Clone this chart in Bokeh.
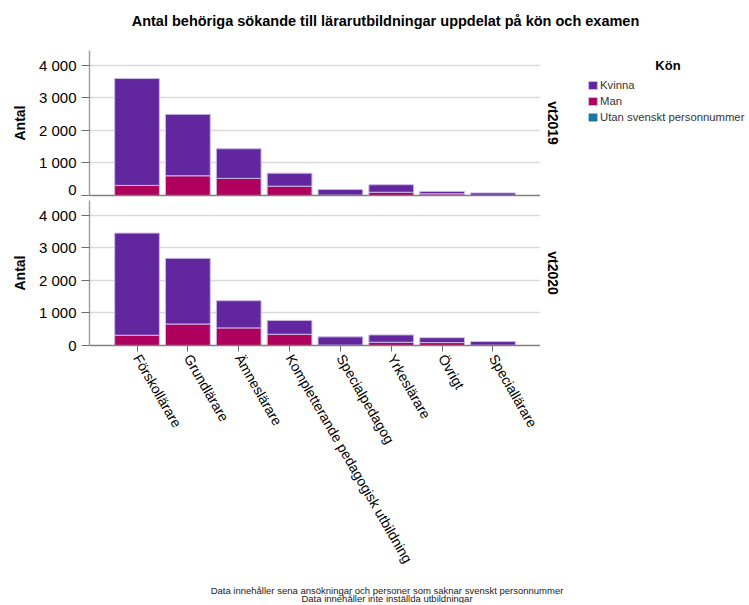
import math
from bokeh.plotting import figure
from bokeh.models import (FactorRange, Range1d, FixedTicker, Legend, LegendItem,
                          Label, ColumnDataSource, LinearAxis)
from bokeh.layouts import column, row
from bokeh.embed import file_html
from bokeh.resources import INLINE

# ---------------- data ----------------
categories = ["Förskollärare", "Grundlärare", "Ämneslärare",
              "Kompletterande pedagogisk utbildning", "Specialpedagog",
              "Yrkeslärare", "Övrigt", "Speciallärare"]

kvinna_2019 = [3280, 1885, 910, 400, 175, 230, 75, 75]
man_2019 = [310, 605, 525, 285, 10, 100, 50, 5]
utan_2019 = [0, 0, 0, 0, 0, 0, 0, 0]

kvinna_2020 = [3135, 2015, 835, 425, 255, 225, 150, 115]
man_2020 = [315, 660, 540, 345, 10, 100, 90, 8]
utan_2020 = [0, 0, 0, 0, 0, 0, 0, 0]

series_names = ["Kvinna", "Man", "Utan svenskt personnummer"]
panel_names = ["vt2019", "vt2020"]
y_ticks = [0, 1000, 2000, 3000, 4000]
y_tick_labels = ["0", "1 000", "2 000", "3 000", "4 000"]

title_text = "Antal behöriga sökande till lärarutbildningar uppdelat på kön och examen"
y_label = "Antal"
legend_title = "Kön"
footnotes = ["Data innehåller sena ansökningar och personer som saknar svenskt personnummer",
             "Data innehåller inte inställda utbildningar"]

# ---------------- style ----------------
FONT = "Liberation Sans"
C_KVINNA = "#62279f"
C_MAN = "#ae005c"
C_UTAN = "#1b78a0"
OUTLINE = "#cdb9e4"
GRID = "#d9d9d9"
FILLS = [C_MAN, C_KVINNA, C_UTAN]
LINES = [OUTLINE, OUTLINE, None]

TITLE_H = 50
P1_H = 147          # top panel figure height (frame 145 + 2)
P2_H = 3 + 145 + 234
FOOT_H = 24
RIGHT_H = P1_H + P2_H


def blank_fig(w, h):
    f = figure(width=w, height=h, x_range=Range1d(0, 1), y_range=Range1d(0, 1),
               min_border=0, x_axis_location=None, y_axis_location=None,
               output_backend="svg", toolbar_location=None)
    f.grid.visible = False
    f.outline_line_color = None
    return f


def make_panel(kvinna, man, utan, bottom):
    src = ColumnDataSource(dict(cat=categories, kvinna=kvinna, man=man, utan=utan))
    p = figure(x_range=FactorRange(factors=categories, range_padding=0.435,
                                   range_padding_units="absolute"),
               y_range=Range1d(0, 4450),
               frame_width=451, frame_height=145,
               min_border_left=89, min_border_right=0,
               min_border_top=3 if bottom else 0,
               min_border_bottom=234 if bottom else 2,
               x_axis_location="below" if bottom else None,
               output_backend="svg", toolbar_location=None)
    rs = p.vbar_stack(["man", "kvinna", "utan"], x="cat", width=0.88, source=src,
                      fill_color=FILLS, line_color=LINES, line_width=1)
    p.outline_line_color = None
    p.xgrid.visible = False
    p.ygrid.grid_line_color = GRID
    p.ygrid.grid_line_width = 1.5

    yax = p.yaxis[0]
    yax.ticker = FixedTicker(ticks=y_ticks)
    yax.major_label_overrides = {v: s for v, s in zip(y_ticks, y_tick_labels)}
    yax.axis_label = y_label
    yax.axis_label_text_font = FONT
    yax.axis_label_text_font_size = "14px"
    yax.axis_label_text_font_style = "bold"
    yax.axis_label_text_color = "black"
    yax.axis_label_standoff = 8
    yax.major_label_text_font = FONT
    yax.major_label_text_font_size = "15px"
    yax.major_label_text_color = "black"
    yax.major_label_standoff = 5
    yax.major_tick_in = 0
    yax.major_tick_out = 8
    yax.minor_tick_line_color = None
    yax.major_tick_line_color = "#6e6e6e"
    yax.axis_line_color = "#a0a0a0"
    yax.axis_line_width = 1.5

    if bottom:
        xax = p.xaxis[0]
        xax.axis_line_color = "#7f7f7f"
        xax.axis_line_width = 1.5
        xax.major_tick_in = 0
        xax.major_tick_out = 6
        xax.major_tick_line_color = "#6e6e6e"
        xax.major_label_orientation = -math.pi / 3
        xax.major_label_text_font = FONT
        xax.major_label_text_font_size = "14px"
        xax.major_label_text_color = "black"
        xax.major_label_standoff = 4
    else:
        base = LinearAxis(ticker=FixedTicker(ticks=[]), axis_line_color="#7f7f7f",
                          axis_line_width=1.5, major_tick_line_color=None,
                          minor_tick_line_color=None, major_label_standoff=0,
                          major_tick_in=0, major_tick_out=0, minor_tick_out=0)
        p.add_layout(base, "below")
    return p, rs


p1, rs1 = make_panel(kvinna_2019, man_2019, utan_2019, False)
p2, rs2 = make_panel(kvinna_2020, man_2020, utan_2020, True)

# ---- title strip ----
tfig = blank_fig(749, TITLE_H)
tfig.add_layout(Label(x=385, y=30, x_units="screen", y_units="screen",
                      text=title_text, text_align="center", text_baseline="middle",
                      text_font=FONT, text_font_size="14.5px", text_font_style="bold",
                      text_color="black"))

# ---- right strip: facet labels + legend ----
rfig = blank_fig(209, RIGHT_H)
proxy = ColumnDataSource(dict(x=[-10], top=[0]))   # off-screen legend proxies
lr = [rfig.vbar(x="x", top="top", width=0.01, source=proxy,
                fill_color=FILLS[i], line_color=LINES[i]) for i in range(3)]


def page_y(y_page):
    """convert a page y (from top) into screen units from the strip's bottom"""
    return TITLE_H + RIGHT_H - y_page


for name, yc in zip(panel_names, [122.5, 272.5]):
    rfig.add_layout(Label(x=12, y=page_y(yc), x_units="screen", y_units="screen",
                          text=name, angle=-math.pi / 2,
                          text_align="center", text_baseline="middle",
                          text_font=FONT, text_font_size="14px",
                          text_font_style="bold", text_color="black"))

legend = Legend(items=[LegendItem(label=series_names[0], renderers=[lr[1]]),
                       LegendItem(label=series_names[1], renderers=[lr[0]]),
                       LegendItem(label=series_names[2], renderers=[lr[2]])],
                location=(47, page_y(124)), orientation="vertical",
                border_line_color=None, background_fill_alpha=0,
                padding=0, margin=0, spacing=2,
                glyph_width=11, glyph_height=10, label_height=14,
                label_standoff=2, label_text_font=FONT,
                label_text_font_size="11.3px", label_text_color="#333333")
rfig.add_layout(legend)
rfig.add_layout(Label(x=127.5, y=page_y(65), x_units="screen", y_units="screen",
                      text=legend_title, text_align="center", text_baseline="middle",
                      text_font=FONT, text_font_size="13px", text_font_style="bold",
                      text_color="black"))

# ---- footnote strip ----
ffig = blank_fig(749, FOOT_H)
ffig.add_layout(Label(x=386.5, y=13.5, x_units="screen", y_units="screen",
                      text=footnotes[0], text_align="center", text_baseline="alphabetic",
                      text_font=FONT, text_font_size="9.5px", text_color="#222222"))
ffig.add_layout(Label(x=386.5, y=5.5, x_units="screen", y_units="screen",
                      text=footnotes[1], text_align="center", text_baseline="alphabetic",
                      text_font=FONT, text_font_size="9.5px", text_color="#222222"))

layout = column(tfig, row(column(p1, p2, spacing=0), rfig, spacing=0), ffig, spacing=0)
open("out.html", "w").write(file_html(layout, INLINE))
